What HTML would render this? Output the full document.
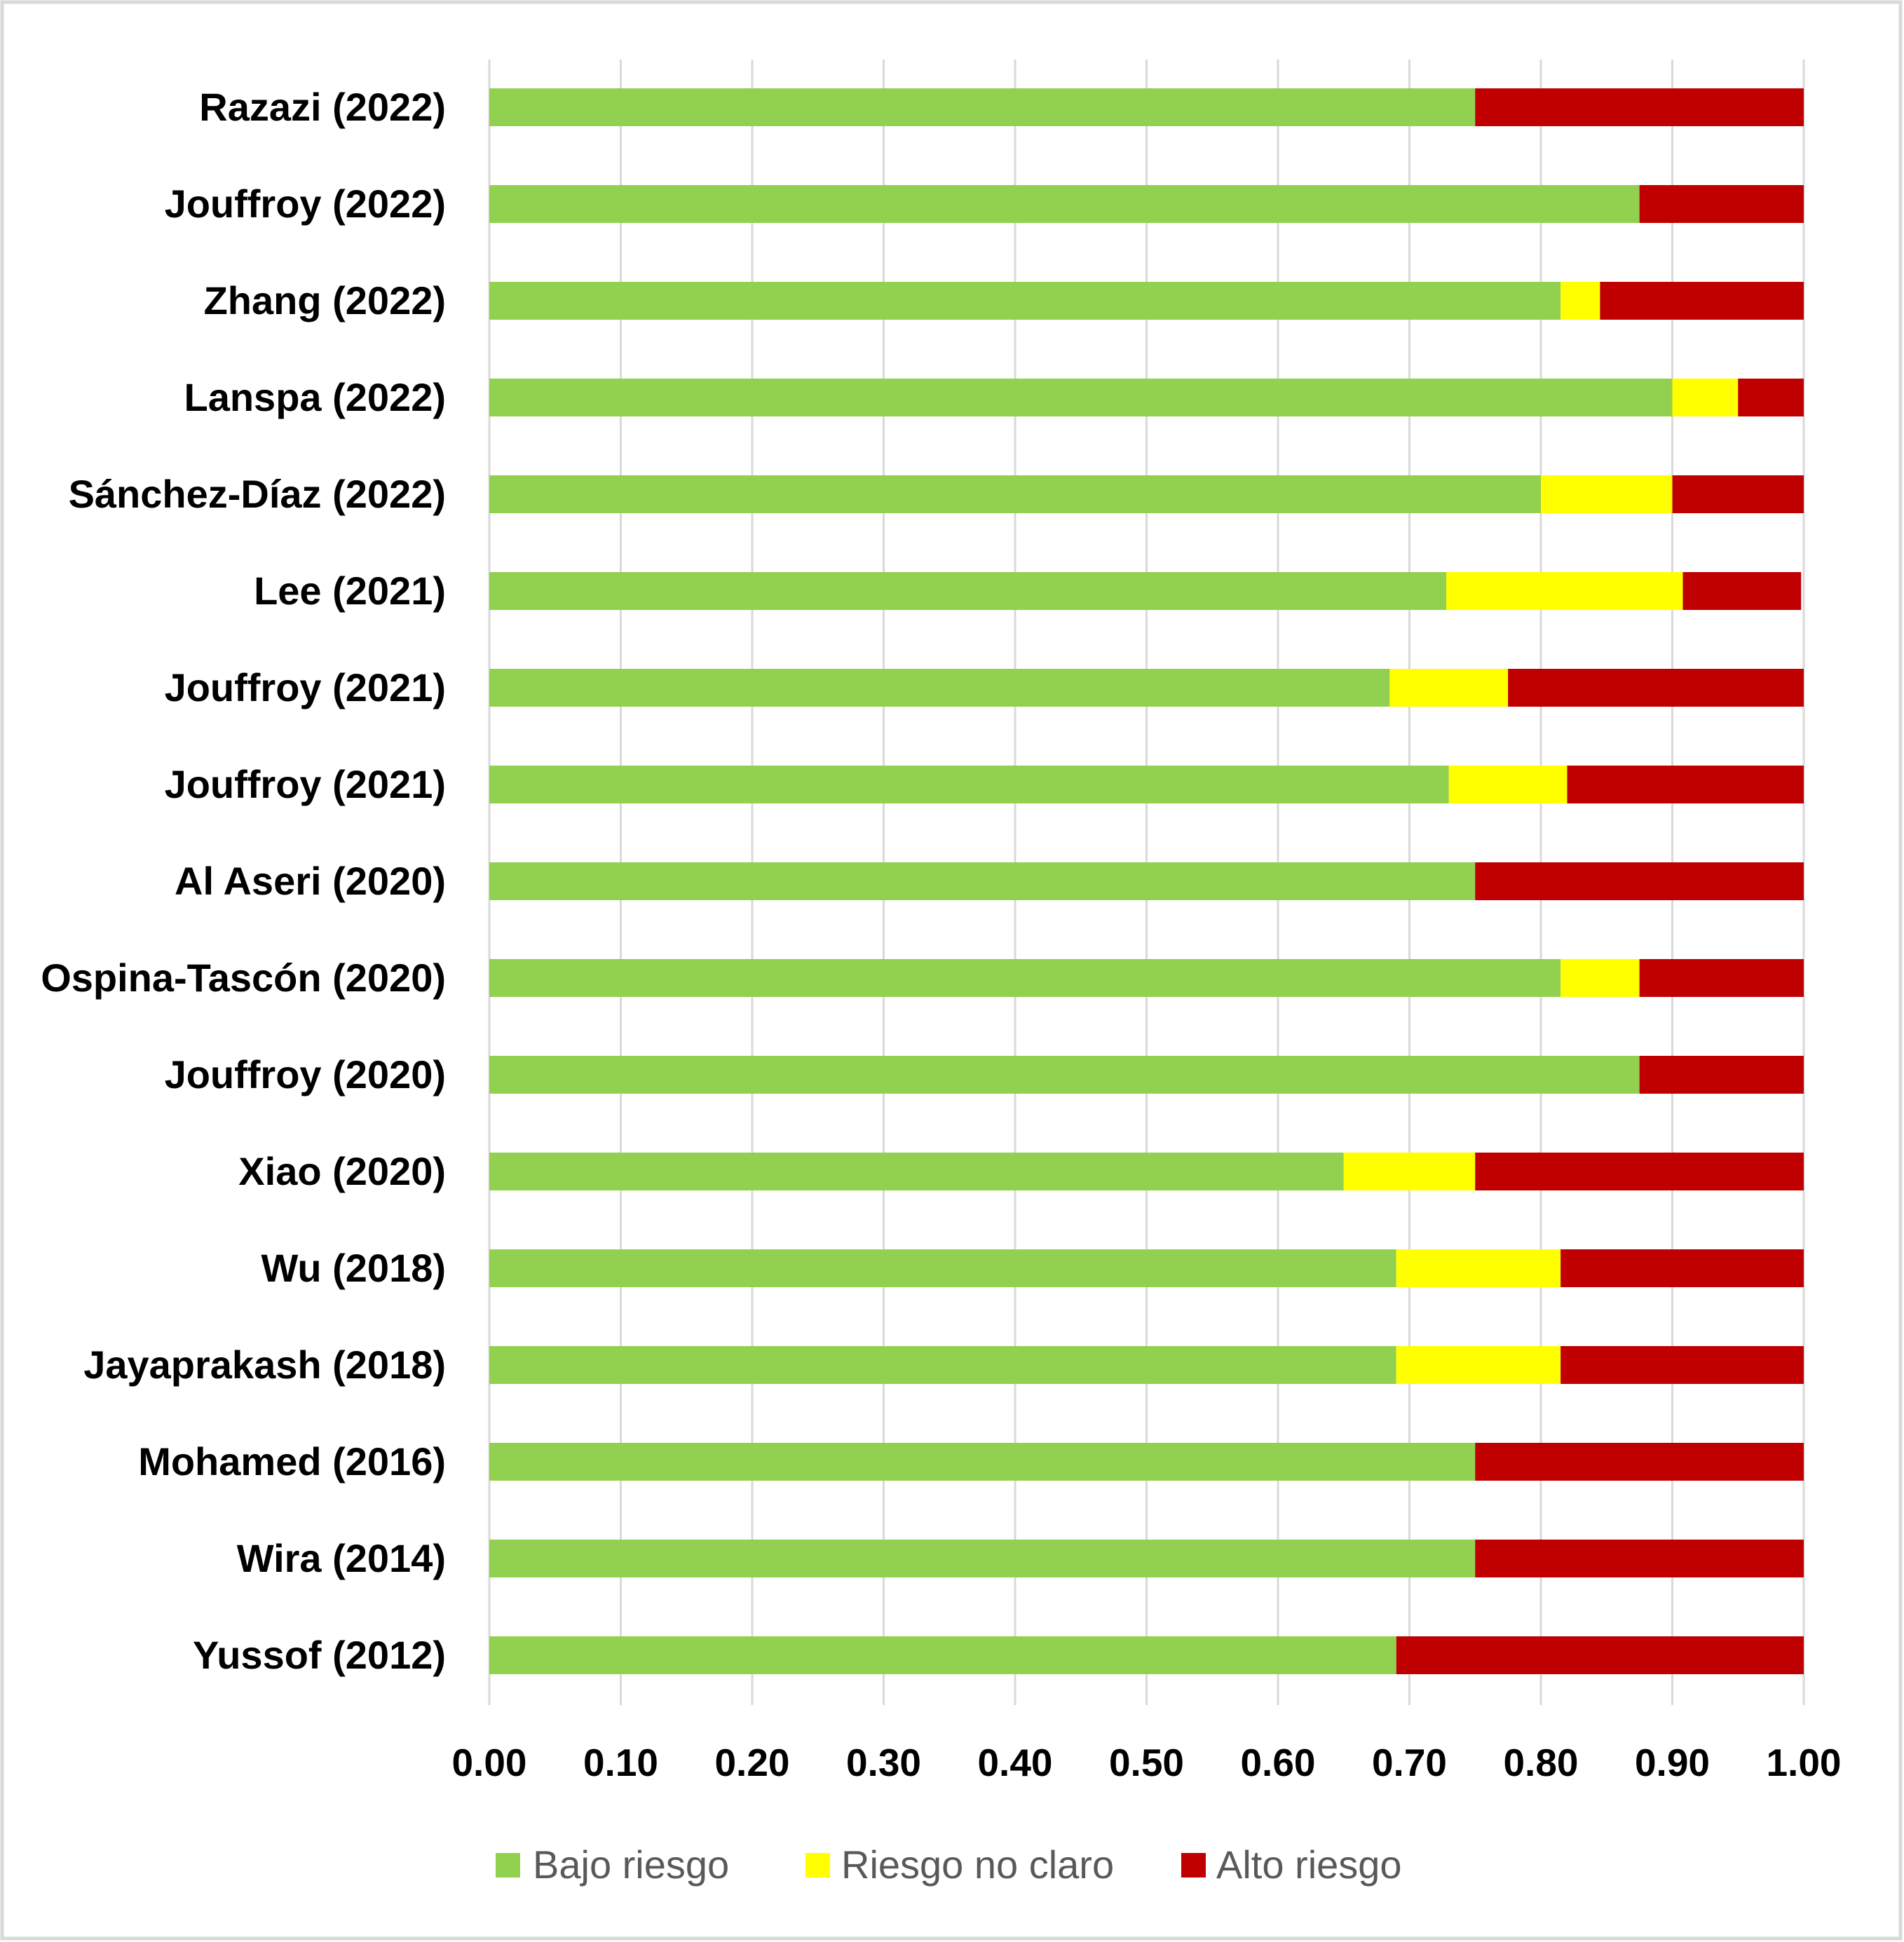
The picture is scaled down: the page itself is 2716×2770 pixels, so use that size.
<!DOCTYPE html>
<html><head><meta charset="utf-8"><style>
body{margin:0;background:#fff}
svg{display:block}
text{font-family:"Liberation Sans",sans-serif}
</style></head><body>
<svg id="chart" width="2716" height="2770" xmlns="http://www.w3.org/2000/svg">
<rect x="3" y="3" width="2708" height="2762" fill="#fff" stroke="#d9d9d9" stroke-width="5"/>
<g id="grid"></g><g id="bars"></g><g id="labels"></g><g id="ticks"></g>
<g id="legend">
 <rect x="707" y="2643" width="35" height="35" fill="#92D050"/>
 <text x="760" y="2679" font-size="56" fill="#595959">Bajo riesgo</text>
 <rect x="1149" y="2643" width="35" height="35" fill="#FFFF00"/>
 <text x="1200" y="2679" font-size="56" fill="#595959">Riesgo no claro</text>
 <rect x="1685" y="2643" width="35" height="35" fill="#C00000"/>
 <text x="1735" y="2679" font-size="56" fill="#595959">Alto riesgo</text>
</g>
</svg>
<script>
const categories=["Razazi (2022)","Jouffroy (2022)","Zhang (2022)","Lanspa (2022)","Sánchez-Díaz (2022)","Lee (2021)","Jouffroy (2021)","Jouffroy (2021)","Al Aseri (2020)","Ospina-Tascón (2020)","Jouffroy (2020)","Xiao (2020)","Wu (2018)","Jayaprakash (2018)","Mohamed (2016)","Wira (2014)","Yussof (2012)"];
const bajo=[0.75,0.875,0.815,0.9,0.8,0.728,0.685,0.73,0.75,0.815,0.875,0.65,0.69,0.69,0.75,0.75,0.69];
const noClaro=[0,0,0.03,0.05,0.1,0.18,0.09,0.09,0,0.06,0,0.1,0.125,0.125,0,0,0];
const alto=[0.25,0.125,0.155,0.05,0.1,0.09,0.225,0.18,0.25,0.125,0.125,0.25,0.185,0.185,0.25,0.25,0.31];
const ticks=[0,0.1,0.2,0.3,0.4,0.5,0.6,0.7,0.8,0.9,1.0];
const NS="http://www.w3.org/2000/svg";
const x=v=>698+v*1875;
const y=i=>153+i*138;
const BH=54;
function mk(tag,attrs,parent){const e=document.createElementNS(NS,tag);for(const k in attrs)e.setAttribute(k,attrs[k]);document.getElementById(parent).appendChild(e);return e;}
ticks.forEach((t,i)=>{
 const l=mk('line',{x1:x(t),x2:x(t),y1:85,y2:2432,stroke:'#d9d9d9','stroke-width':3},'grid');
 
 
 const tx=mk('text',{x:x(t),y:2533,'font-size':55,'font-weight':'bold','text-anchor':'middle',fill:'#000'},'ticks');
 tx.textContent=t.toFixed(2);
 
 
});
categories.forEach((c,i)=>{
 const cy=y(i);
 const segs=[[0,bajo[i],'#92D050','bar-bajo'],[bajo[i],noClaro[i],'#FFFF00','bar-no-claro'],[bajo[i]+noClaro[i],alto[i],'#C00000','bar-alto']];
 segs.forEach(s=>{
  if(s[1]<=0)return;
  const r=mk('rect',{x:x(s[0]),y:cy-BH/2,width:x(s[0]+s[1])-x(s[0]),height:BH,fill:s[2]},'bars');
  
  
 });
 const t=mk('text',{x:636,y:cy+19,'font-size':56,'font-weight':'bold','text-anchor':'end',fill:'#000'},'labels');
 t.textContent=c;
 
 
});
</script>
</body></html>
